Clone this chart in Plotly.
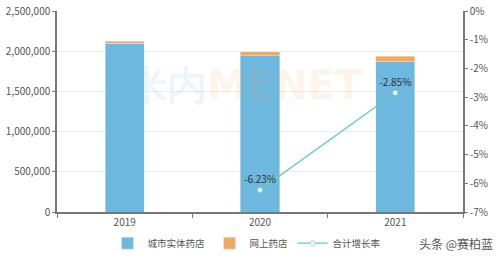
import plotly.graph_objects as go

years = ["2019", "2020", "2021"]
physical = [2100000, 1942000, 1870000]
online = [25000, 50600, 66000]
growth_years = ["2020", "2021"]
growth = [-6.23, -2.85]
growth_labels = ["-6.23%", "-2.85%"]
left_ticks = [0, 500000, 1000000, 1500000, 2000000, 2500000]
right_ticks = [0, -1, -2, -3, -4, -5, -6, -7]
right_labels = ["0%", "-1%", "-2%", "-3%", "-4%", "-5%", "-6%", "-7%"]

fig = go.Figure()
fig.add_trace(go.Bar(x=years, y=physical, name="城市实体药店", marker_color="#6cb8de",
                     width=0.29, yaxis="y"))
fig.add_trace(go.Bar(x=years, y=online, name="网上药店", marker_color="#f0a960",
                     width=0.29, yaxis="y"))
fig.add_trace(go.Scatter(x=growth_years, y=growth, name="合计增长率", yaxis="y2",
                         mode="lines+markers+text", text=growth_labels,
                         textposition="top center",
                         textfont=dict(size=10, color="#333"),
                         line=dict(color="#66cdb4", width=1.3),
                         marker=dict(size=5, color="white", line=dict(color="#66cdb4", width=0.6))))

# faint watermark
fig.add_annotation(x=0.463, y=0.63, xref="paper", yref="paper",
                   text="<b><span style='color:rgba(108,184,222,0.14)'>米内</span>"
                        "<span style='color:rgba(240,169,96,0.14)'>MENET</span></b>",
                   showarrow=False, font=dict(size=40, family="DejaVu Sans"))
fig.add_annotation(x=1.08, y=-0.155, xref="paper", yref="paper", text="头条 @赛柏蓝",
                   showarrow=False, xanchor="right", yanchor="middle",
                   font=dict(size=12, color="#555"))

fig.update_layout(
    width=500, height=259,
    margin=dict(l=57, r=37, t=11, b=47, autoexpand=False),
    paper_bgcolor="white", plot_bgcolor="white",
    barmode="stack",
    font=dict(family="Noto Sans CJK SC, Noto Sans, sans-serif", size=10, color="#555"),
    xaxis=dict(type="category", showline=True, linecolor="#777", linewidth=1.5,
               ticks="outside", tickson="boundaries", ticklen=4, tickcolor="#777",
               tickfont=dict(size=10, color="#555")),
    yaxis=dict(range=[0, 2500000], tickvals=left_ticks, tickformat=",",
               showline=True, linecolor="#777", linewidth=1.5, ticks="outside",
               ticklen=3, tickcolor="#777", gridcolor="#efefef", zeroline=False,
               tickfont=dict(size=10, color="#555")),
    yaxis2=dict(range=[-7, 0], tickvals=right_ticks, ticktext=right_labels, overlaying="y",
                side="right", showline=True, linecolor="#777", linewidth=1.5,
                ticks="outside", ticklen=3, tickcolor="#777", showgrid=False,
                zeroline=False, tickfont=dict(size=10, color="#555")),
    legend=dict(orientation="h", x=0.468, xanchor="center", y=-0.155, yanchor="middle",
                font=dict(size=9.5, color="#555"), traceorder="normal", itemwidth=30),
    showlegend=True,
)
fig.write_html("out.html")
